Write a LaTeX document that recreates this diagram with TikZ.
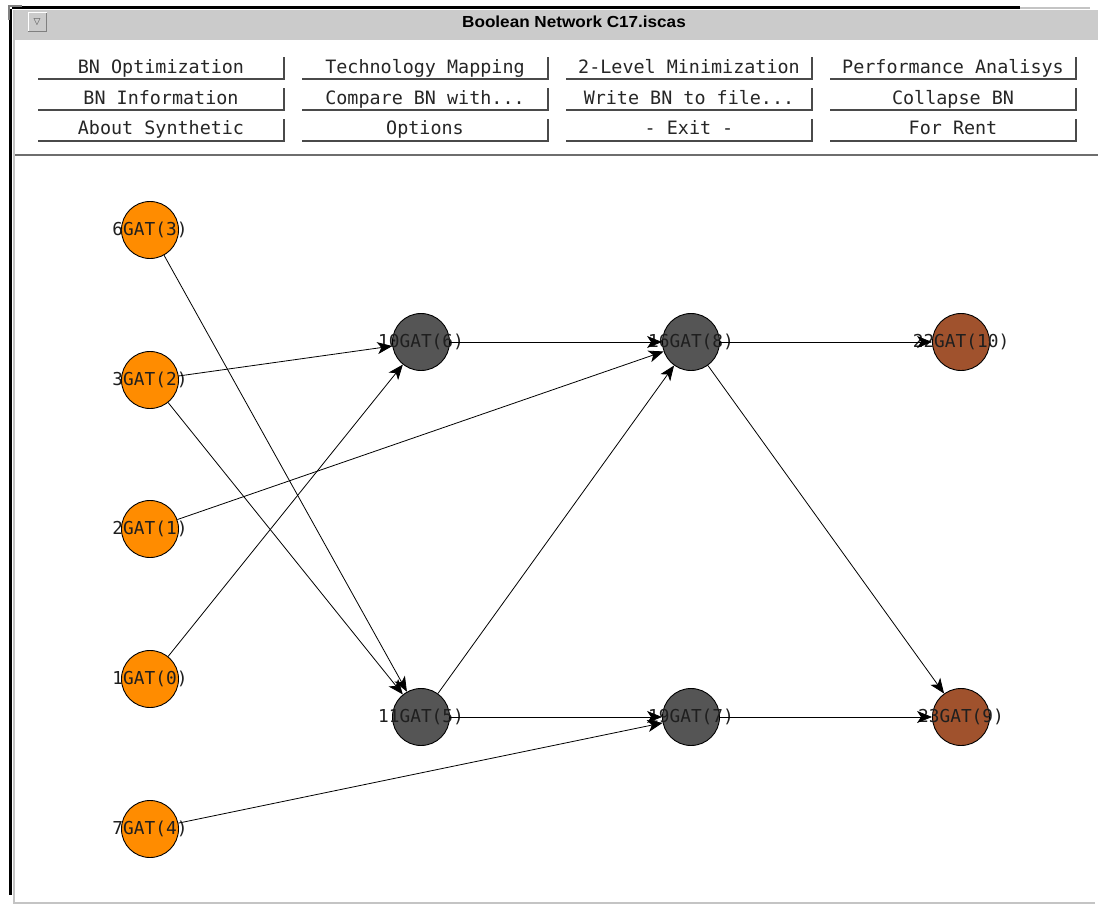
\documentclass[tikz,border=0pt]{standalone}
\usepackage{fontspec}
\newfontfamily\monof{DejaVu Sans Mono}
\newfontfamily\titlef{Liberation Sans}
\newfontfamily\symf{DejaVu Sans}
\usetikzlibrary{arrows.meta}
\definecolor{gateor}{HTML}{FF8C00}
\definecolor{gategr}{HTML}{555555}
\definecolor{gatebr}{HTML}{A0522D}
\definecolor{barg}{HTML}{CBCBCB}
\definecolor{btnline}{HTML}{4A4A4A}
\definecolor{sepline}{HTML}{6E6E6E}
\definecolor{lightline}{HTML}{C4C4C4}
\begin{document}
\begin{tikzpicture}[x=1pt,y=-1pt,
  gate/.style={circle,draw=black,line width=0.9pt,minimum size=57pt,inner sep=0pt},
  inp/.style={gate,fill=gateor},
  midg/.style={gate,fill=gategr},
  outg/.style={gate,fill=gatebr},
  lbl/.style={font=\monof\fontsize{17.8}{18}\selectfont,text=black!88,inner sep=0pt},
  btn/.style={font=\monof\fontsize{18.4}{19}\selectfont,text=black!85,inner sep=0pt,anchor=base},
  edge/.style={draw=black,line width=0.8pt,-{Stealth[length=15pt,width=12pt,inset=4pt]}},
  btnln/.style={draw=btnline,line width=1.4pt}]
\useasboundingbox (0,0) rectangle (1098,907);
\fill[white] (0,0) rectangle (1098,907);
% window frame
\fill[barg] (13,10) rectangle (1098,40);
\draw[black,line width=3pt] (12,7.5) -- (1020,7.5);
\draw[lightline,line width=1.5pt] (1020,8) -- (1090,8);
\draw[black,line width=3pt] (10.5,9) -- (10.5,895);
\draw[lightline,line width=2pt] (14,10) -- (14,903);
\draw[lightline,line width=2pt] (13,903) -- (1095,903);
\draw[gray,line width=2pt] (9,20) -- (9,6) -- (22,6);
\draw[sepline,line width=2pt] (15,155) -- (1098,155);
% title bar
\draw[fill=barg,draw=white,line width=1pt] (28,13) rectangle (46,32);
\draw[gray,line width=1pt] (46,13) -- (46,32) -- (28,32);
\node[font=\symf\fontsize{9}{9}\selectfont,text=black!70] (menu) at (37,22.5) {▽};
\node[font=\titlef\bfseries\fontsize{16}{16}\selectfont,inner sep=0pt] (title) at (574,22)
  {\scalebox{1.07}[1]{Boolean Network C17.iscas}};
% buttons
\foreach \r/\ty/\by in {1/67/79, 2/98/110, 3/128/141}{
  \foreach \c/\lx in {1/38, 2/302, 3/566, 4/830}{
    \draw[btnln] (\lx,\by) -- (\lx+246,\by) -- (\lx+246,\by-22);
  }
}
\node[btn] (b11) at (161,73.5) {BN Optimization};
\node[btn] (b12) at (425,73.5) {Technology Mapping};
\node[btn] (b13) at (689,73.5) {2-Level Minimization};
\node[btn] (b14) at (953,73.5) {Performance Analisys};
\node[btn] (b21) at (161,104.5) {BN Information};
\node[btn] (b22) at (425,104.5) {Compare BN with...};
\node[btn] (b23) at (689,104.5) {Write BN to file...};
\node[btn] (b24) at (953,104.5) {Collapse BN};
\node[btn] (b31) at (161,134.5) {About Synthetic};
\node[btn] (b32) at (425,134.5) {Options};
\node[btn] (b33) at (689,134.5) {- Exit -};
\node[btn] (b34) at (953,134.5) {For Rent};
% gates
\node[inp] (g6) at (150,230) {};
\node[inp] (g3) at (150,380) {};
\node[inp] (g2) at (150,529) {};
\node[inp] (g1) at (150,679) {};
\node[inp] (g7) at (150,829) {};
\node[midg] (g10) at (421,342) {};
\node[midg] (g11) at (421,717) {};
\node[midg] (g16) at (691,342) {};
\node[midg] (g19) at (691,717) {};
\node[outg] (g22) at (961,342) {};
\node[outg] (g23) at (961,717) {};
\node[lbl] (l6) at (g6) {6GAT(3)};
\node[lbl] (l3) at (g3) {3GAT(2)};
\node[lbl] (l2) at (g2) {2GAT(1)};
\node[lbl] (l1) at (g1) {1GAT(0)};
\node[lbl] (l7) at (g7) {7GAT(4)};
\node[lbl] (l10) at (g10) {10GAT(6)};
\node[lbl] (l11) at (g11) {11GAT(5)};
\node[lbl] (l16) at (g16) {16GAT(8)};
\node[lbl] (l19) at (g19) {19GAT(7)};
\node[lbl] (l22) at (g22) {22GAT(10)};
\node[lbl] (l23) at (g23) {23GAT(9)};
% edges
\draw[edge] (g6) -- (g11);
\draw[edge] (g3) -- (g10);
\draw[edge] (g3) -- (g11);
\draw[edge] (g2) -- (g16);
\draw[edge] (g1) -- (g10);
\draw[edge] (g7) -- (g19);
\draw[edge] (g10) -- (g16);
\draw[edge] (g11) -- (g16);
\draw[edge] (g11) -- (g19);
\draw[edge] (g16) -- (g22);
\draw[edge] (g16) -- (g23);
\draw[edge] (g19) -- (g23);
\end{tikzpicture}
\end{document}
